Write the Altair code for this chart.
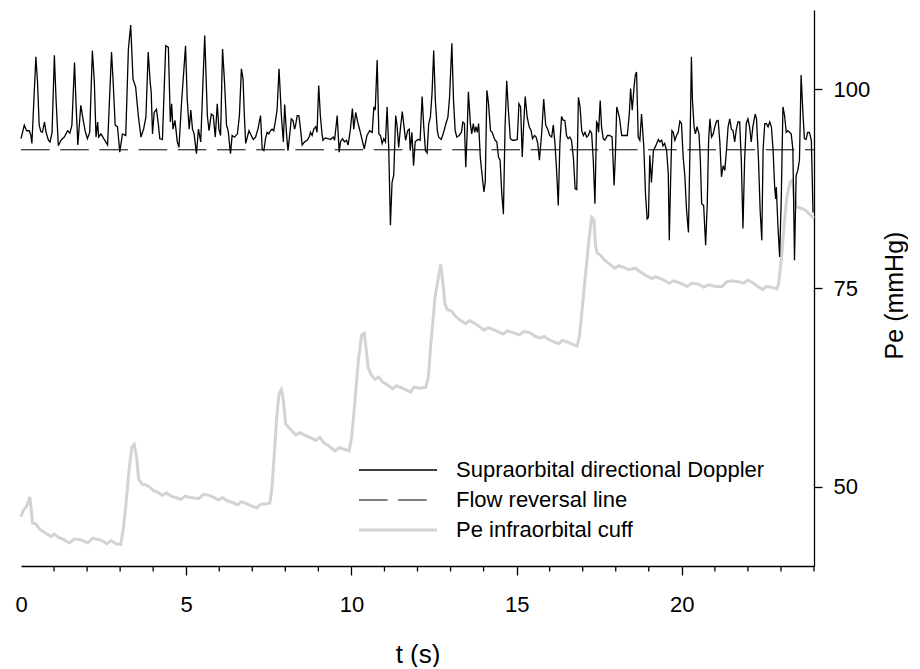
import altair as alt
import pandas as pd

FONT = "Liberation Sans"

# ---- data ----
doppler_t = [0.00, 0.10, 0.17, 0.25, 0.30, 0.33, 0.45, 0.50, 0.55, 0.60, 0.65, 0.71, 0.76, 0.83, 0.88, 0.94,
             1.01, 1.06, 1.13, 1.21, 1.31, 1.41, 1.48, 1.54, 1.62, 1.66, 1.72, 1.81, 1.86, 1.94, 2.01, 2.08,
             2.16, 2.22, 2.27, 2.32, 2.35, 2.42, 2.52, 2.62, 2.74, 2.79, 2.85, 2.92, 2.99, 3.07, 3.17, 3.25,
             3.32, 3.39, 3.47, 3.55, 3.63, 3.71, 3.78, 3.85, 3.91, 3.94, 3.98, 4.03, 4.10, 4.16, 4.20, 4.28,
             4.38, 4.46, 4.52, 4.56, 4.60, 4.66, 4.73, 4.78, 4.86, 4.98, 5.03, 5.09, 5.14, 5.19, 5.24, 5.31,
             5.37, 5.44, 5.56, 5.64, 5.69, 5.76, 5.82, 5.88,
             5.94, 5.99, 6.04, 6.10, 6.16, 6.22, 6.27, 6.34, 6.39, 6.46, 6.55, 6.61, 6.67, 6.72, 6.76, 6.80,
             6.85, 6.90, 6.97, 7.03, 7.10, 7.17, 7.25, 7.30, 7.35, 7.40, 7.45, 7.50, 7.55, 7.60, 7.65, 7.71,
             7.75, 7.81, 7.88, 7.94, 7.98, 8.04, 8.08, 8.14, 8.18, 8.23, 8.28, 8.31, 8.36, 8.41, 8.46, 8.51,
             8.58, 8.66, 8.72, 8.76, 8.81, 8.86, 8.92, 8.96, 9.01, 9.06, 9.11, 9.14, 9.21, 9.28, 9.37, 9.45,
             9.49, 9.57, 9.63, 9.67, 9.73, 9.79, 9.85, 9.90, 9.97, 10.03, 10.07, 10.13, 10.19, 10.27, 10.35,
             10.39, 10.47, 10.55, 10.63, 10.68, 10.72, 10.78, 10.83, 10.88, 10.93, 10.98, 11.03, 11.08, 11.13,
             11.18, 11.23, 11.28, 11.34, 11.38, 11.43, 11.48, 11.54, 11.60, 11.64, 11.70, 11.75,
             11.78, 11.83, 11.88, 11.93, 12.01, 12.08, 12.14, 12.19, 12.24, 12.29, 12.34, 12.39, 12.44, 12.49,
             12.54, 12.60, 12.64, 12.72, 12.79, 12.86, 12.92, 12.97, 13.04, 13.09, 13.14, 13.19, 13.26, 13.33,
             13.37, 13.42, 13.46, 13.50, 13.54, 13.60, 13.64, 13.69, 13.73, 13.77, 13.81, 13.85, 13.90, 13.95,
             14.01, 14.05, 14.10, 14.15, 14.21, 14.26, 14.31, 14.35, 14.40, 14.45, 14.50, 14.55, 14.60, 14.65,
             14.70, 14.75, 14.81, 14.87, 14.95, 15.02, 15.07, 15.12, 15.17, 15.21, 15.26, 15.32, 15.38, 15.44,
             15.48, 15.54, 15.59, 15.64, 15.69, 15.76, 15.82, 15.88, 15.94, 16.00, 16.06, 16.11, 16.16, 16.21,
             16.26, 16.31, 16.36, 16.41, 16.46, 16.51, 16.56, 16.61, 16.66, 16.72, 16.77, 16.82, 16.87, 16.92,
             16.97, 17.02, 17.07, 17.12, 17.17, 17.22, 17.27, 17.32, 17.37, 17.42, 17.45, 17.48, 17.53, 17.57,
             17.62, 17.67, 17.75, 17.82, 17.89,
             17.95, 17.99, 18.03, 18.11, 18.18, 18.28, 18.35, 18.41, 18.45, 18.50, 18.55, 18.59, 18.63, 18.68,
             18.73, 18.78, 18.85, 18.90, 18.95, 18.99, 19.03, 19.08, 19.14, 19.19, 19.24, 19.29, 19.33, 19.39,
             19.43, 19.48, 19.54, 19.59, 19.62, 19.66, 19.70, 19.74, 19.79, 19.84, 19.89, 19.94, 19.99, 20.04,
             20.09, 20.14, 20.20, 20.24, 20.29, 20.32, 20.37, 20.41, 20.46, 20.52, 20.56, 20.60, 20.66, 20.72,
             20.77, 20.81, 20.85, 20.90, 20.95, 21.00, 21.05, 21.10, 21.15, 21.20, 21.25, 21.30, 21.35, 21.40,
             21.45, 21.50, 21.55, 21.60, 21.65, 21.70, 21.75, 21.80, 21.85, 21.90, 21.95, 22.00, 22.05, 22.10,
             22.15, 22.22, 22.26, 22.32, 22.37, 22.42, 22.46, 22.51, 22.56, 22.61, 22.66, 22.71, 22.76, 22.81,
             22.84, 22.86, 22.91, 22.96, 23.01, 23.06, 23.11, 23.16, 23.21, 23.26, 23.31, 23.36, 23.41, 23.46,
             23.51, 23.56, 23.61, 23.66, 23.71, 23.76, 23.81, 23.86, 23.92, 23.97]

doppler_v = [93.8, 95.5, 94.8, 94.8, 94.2, 93.2, 104.1, 100.9, 95.5, 94.7, 94.6, 95.9, 94.6, 93.6, 93.4, 94.6,
             104.3, 98.8, 92.9, 93.6, 94.0, 94.8, 94.5, 95.5, 103.4, 98.8, 93.0, 98.0, 96.7, 94.8, 93.8, 94.6,
             104.9, 100.9, 94.0, 95.9, 94.0, 94.4, 93.7, 93.0, 104.7, 100.9, 95.5, 95.3, 92.1, 94.4, 94.2, 105.1,
             108.1, 101.3, 100.3, 96.7, 94.0, 95.0, 96.5, 104.7, 100.9, 99.7, 94.4, 97.1, 97.5, 95.5, 93.8, 93.7,
             105.5, 105.3, 95.9, 98.2, 95.0, 96.1, 93.4, 92.7, 98.4, 105.5, 98.8, 95.0, 97.4, 95.0, 94.4, 91.9,
             95.0, 93.4, 106.8, 96.7, 94.8, 96.9, 96.7, 94.0,
             98.2, 95.0, 94.2, 105.1, 100.9, 95.5, 94.8, 91.9, 94.2, 94.0, 94.4, 96.7, 102.6, 101.3, 96.7, 93.2,
             94.0, 94.8, 94.2, 93.7, 94.0, 95.0, 96.7, 92.5, 92.3, 93.8, 94.6, 94.4, 94.8, 95.0, 94.8, 96.3,
             97.4, 102.6, 96.7, 93.4, 98.1, 94.2, 92.3, 94.6, 96.3, 96.1, 95.0, 95.5, 96.7, 96.7, 95.0, 93.0,
             93.4, 93.6, 94.0, 94.6, 94.2, 95.0, 95.3, 94.6, 100.5, 96.7, 94.4, 93.6, 93.9, 93.8, 93.7, 94.0,
             93.6, 96.7, 92.1, 93.4, 93.8, 93.4, 93.6, 93.0, 95.0, 97.6, 95.0, 97.1, 95.9, 94.6, 93.2,
             92.5, 94.2, 94.8, 94.6, 97.8, 97.4, 103.7, 94.4, 94.2, 93.2, 93.8, 93.4, 97.8, 92.5,
             82.9, 88.3, 89.2, 96.7, 95.5, 92.7, 95.0, 97.2, 95.0, 93.6, 94.8, 95.0,
             92.3, 94.6, 90.4, 93.4, 93.7, 93.6, 99.1, 95.3, 92.3, 92.0, 95.7, 96.5, 99.5, 104.9,
             98.6, 94.8, 94.0, 93.7, 94.6, 95.7, 96.5, 99.0, 105.8, 98.6, 94.8, 94.0, 94.2, 94.6,
             95.9, 95.7, 90.2, 94.2, 99.7, 95.7, 94.4, 95.7, 94.6, 95.3, 94.6, 95.7, 91.5, 89.4,
             87.1, 88.3, 99.9, 98.2, 94.8, 94.6, 94.0, 93.6, 93.4, 91.5, 91.1, 86.9, 84.3, 95.3,
             101.1, 97.4, 93.8, 93.6, 93.6, 93.7, 98.2, 97.8, 91.5, 95.3, 99.1, 96.5, 95.3, 94.8,
             93.8, 94.2, 94.0, 93.2, 91.1, 94.6, 98.8, 95.5, 95.0, 94.2, 94.0, 95.5, 93.2, 89.8,
             85.4, 93.2, 96.6, 96.1, 96.1, 94.2, 93.8, 94.0, 93.6, 91.3, 87.5, 87.4, 99.0, 97.8,
             94.8, 94.2, 94.6, 94.0, 94.2, 94.8, 94.5, 91.1, 85.6, 95.9, 95.7, 94.6, 98.6, 95.3,
             93.8, 93.6, 94.2, 94.2, 94.0,
             87.9, 91.9, 97.8, 96.5, 94.2, 94.2, 94.2, 96.9, 100.1, 97.4, 100.1, 101.8, 102.2, 94.0,
             93.6, 96.9, 92.7, 86.9, 83.7, 83.9, 91.7, 88.3, 92.3, 92.7, 93.2, 93.7, 93.4, 93.6,
             92.9, 93.2, 92.3, 89.4, 81.0, 88.5, 94.8, 94.6, 93.6, 94.2, 94.6, 96.0, 95.7, 91.5,
             89.2, 85.0, 82.0, 91.1, 104.1, 98.8, 95.3, 94.4, 95.3, 94.4, 91.1, 85.6, 85.4, 80.4,
             85.6, 93.6, 96.3, 94.0, 94.4, 95.3, 96.0, 96.1, 93.4, 89.0, 90.4, 89.8, 92.3, 95.3,
             96.3, 95.0, 94.8, 93.4, 95.0, 95.9, 95.9, 91.1, 82.5, 91.1, 95.7, 96.3, 95.3, 93.4,
             95.3, 96.9, 96.3, 91.1, 84.8, 81.0, 92.5, 95.7, 95.7, 95.3, 95.9, 95.3, 92.5, 87.7,
             86.2, 87.7, 82.7, 78.9, 86.4, 97.8, 96.7, 94.6, 94.8, 94.6, 94.4, 92.5, 78.5, 89.2,
             89.8, 91.1, 101.8, 97.4, 93.8, 93.7, 94.6, 94.6, 93.6, 84.5]

pe_t = [0.00, 0.07, 0.17, 0.27, 0.35, 0.45, 0.57, 0.76, 0.91, 1.01, 1.14, 1.31, 1.46, 1.61, 1.81, 2.02, 2.17,
        2.37, 2.49, 2.59, 2.72, 2.87, 3.02, 3.09, 3.17, 3.28, 3.36, 3.43, 3.50, 3.56, 3.66, 3.78, 3.88, 4.00,
        4.13, 4.28, 4.40, 4.54, 4.69, 4.84, 4.97, 5.14, 5.39, 5.51, 5.70, 5.85, 5.98, 6.10, 6.25, 6.40, 6.55,
        6.68, 6.80, 6.95, 7.13, 7.26, 7.41, 7.53, 7.59, 7.66, 7.74, 7.81, 7.88, 7.94, 8.01, 8.13, 8.32, 8.44,
        8.62, 8.80, 8.92, 9.04, 9.17, 9.32, 9.51, 9.63, 9.78, 9.93, 10.01, 10.11, 10.21, 10.31, 10.39, 10.45,
        10.51, 10.61, 10.72, 10.82, 10.94, 11.09, 11.25, 11.36, 11.54, 11.79, 11.89, 12.07, 12.25, 12.33,
        12.40, 12.47, 12.53, 12.60, 12.70, 12.77, 12.83, 12.90, 13.03, 13.16, 13.31, 13.46, 13.58, 13.75,
        13.89, 14.01, 14.14, 14.28, 14.44, 14.59, 14.72, 14.89, 15.07, 15.22, 15.39, 15.53, 15.68, 15.83,
        15.98, 16.13, 16.28, 16.38, 16.53, 16.70, 16.83, 16.90, 16.98, 17.08, 17.19, 17.27, 17.34, 17.39,
        17.44, 17.54, 17.67, 17.81, 17.97, 18.09, 18.24, 18.40, 18.60, 18.72, 18.90, 19.08, 19.21, 19.41,
        19.61, 19.76, 19.96, 20.16, 20.31, 20.49, 20.66, 20.82, 21.02, 21.22, 21.37, 21.52, 21.72, 21.87,
        22.00, 22.17, 22.33, 22.45, 22.55, 22.71, 22.88, 22.93, 23.01, 23.09, 23.18, 23.28, 23.35, 23.41,
        23.48, 23.64, 23.74, 23.89, 24.00]

pe_v = [46.2, 47.0, 47.5, 48.7, 45.4, 45.3, 44.6, 44.1, 43.7, 44.0, 43.6, 43.3, 42.9, 43.4, 43.3, 42.9, 43.5,
        43.3, 43.1, 42.8, 43.2, 42.8, 42.7, 44.5, 47.5, 52.5, 55.0, 55.3, 53.7, 51.0, 50.3, 50.2, 50.0, 49.5,
        49.3, 48.9, 49.2, 48.8, 48.6, 48.4, 48.8, 48.6, 48.5, 49.0, 48.9, 48.6, 48.3, 48.6, 48.2, 48.0, 47.7,
        48.1, 47.9, 47.6, 47.3, 47.8, 47.8, 47.9, 49.6, 53.7, 58.8, 61.7, 62.2, 60.9, 57.9, 57.3, 56.5, 56.8,
        56.4, 56.1, 55.8, 56.2, 55.5, 55.1, 54.5, 54.9, 54.7, 54.5, 56.3, 60.9, 65.9, 69.1, 69.3, 67.2,
        64.9, 64.0, 63.5, 63.8, 63.2, 62.8, 62.3, 62.7, 62.4, 61.9, 62.5, 62.4, 62.5, 63.8,
        67.8, 71.0, 73.8, 75.6, 78.0, 75.6, 73.0, 72.3, 72.1, 71.4, 70.9, 70.5, 70.9, 70.5,
        70.1, 69.7, 70.0, 69.8, 69.5, 69.2, 69.6, 69.4, 69.1, 69.5, 69.4, 69.0, 68.7, 68.9,
        68.5, 68.2, 68.0, 68.4, 68.2, 67.9, 67.7, 68.9, 72.2, 76.5, 81.1, 83.9, 83.6, 80.2,
        79.4, 79.1, 78.5, 78.0, 77.5, 77.8, 77.6, 77.3, 77.5, 77.1, 76.6, 76.2, 76.4, 76.1,
        75.6, 75.9, 75.6, 75.2, 75.6, 75.5, 75.1, 75.4, 75.2, 75.2, 75.8, 75.9, 75.8, 75.6,
        76.0, 75.6, 75.1, 74.8, 75.2, 75.1, 74.9, 75.6, 78.5, 82.7, 86.5, 88.4, 88.6, 86.1,
        85.2, 85.0, 84.8, 84.2, 83.8]

flow_t = [0, 24]
flow_v = [92.4, 92.4]

series_names = ["Supraorbital directional Doppler", "Flow reversal line", "Pe infraorbital cuff"]
series_colors = ["#000000", "#000000", "#d3d3d3"]
series_dash = [[1, 0], [28.6, 10.6], [1, 0]]
series_width = [1.3, 1.0, 3.0]
x_major = [0, 5, 10, 15, 20]
x_minor = [1, 2, 3, 4, 6, 7, 8, 9, 11, 12, 13, 14, 16, 17, 18, 19, 21, 22, 23, 24]
y_ticks = [50, 75, 100]

W, H = 793, 556

df_dop = pd.DataFrame({"t": doppler_t, "v": doppler_v, "series": series_names[0]})
df_flow = pd.DataFrame({"t": flow_t, "v": flow_v, "series": series_names[1]})
df_pe = pd.DataFrame({"t": pe_t, "v": pe_v, "series": series_names[2]})
df_minor = pd.DataFrame({"t": x_minor})

xscale = alt.Scale(domain=[0, 24], nice=False, zero=False)
yscale = alt.Scale(domain=[40, 110], nice=False, zero=False)

xaxis = alt.Axis(values=x_major, title="t (s)", tickSize=9, tickWidth=1.3, domainWidth=1.3,
                 labelPadding=19, labelFontSize=22, titleFontSize=26, titlePadding=26,
                 grid=False, labelFlush=False,
                 tickOpacity={"condition": {"test": "datum.value === 0", "value": 0}, "value": 1})
yaxis = alt.Axis(orient="right", values=y_ticks, title="Pe (mmHg)", tickSize=8, tickWidth=1.3,
                 domainWidth=1.3, labelPadding=11, labelFontSize=22, titleFontSize=25,
                 titleAngle=270, titleBaseline="top", titlePadding=13, titleY=285, grid=False)

width_expr = ("datum.value === '%s' ? %s : (datum.value === '%s' ? %s : %s)"
              % (series_names[2], series_width[2], series_names[1], series_width[1], series_width[0]))

legend = alt.Legend(title=None, orient="none", legendX=337, legendY=449, padding=0,
                    symbolType="M-3.9,0H3.9", symbolSize=400, symbolOffset=29, labelOffset=47,
                    labelFontSize=22, labelFont=FONT, labelColor="black", labelLimit=0, rowPadding=8,
                    symbolStrokeWidth=alt.ExprRef(expr=width_expr))

cscale = alt.Scale(domain=series_names, range=series_colors)
dscale = alt.Scale(domain=series_names, range=series_dash)


def line(df, sw):
    return alt.Chart(df).mark_line(strokeWidth=sw).encode(
        x=alt.X("t:Q", scale=xscale, axis=xaxis),
        y=alt.Y("v:Q", scale=yscale, axis=yaxis),
        color=alt.Color("series:N", scale=cscale, legend=legend),
        strokeDash=alt.StrokeDash("series:N", scale=dscale, legend=legend),
    )


minor = alt.Chart(df_minor).mark_rule(color="black", strokeWidth=1.3).encode(
    x=alt.X("t:Q", scale=xscale, axis=xaxis),
    y=alt.value(H),
    y2=alt.value(H + 5.5),
)

chart = alt.layer(
    line(df_pe, series_width[2]),
    line(df_flow, series_width[1]),
    line(df_dop, series_width[0]),
    minor,
).properties(
    width=W, height=H,
    padding={"left": 6, "top": 2, "right": 0, "bottom": 0},
).configure_axis(
    labelFont=FONT, titleFont=FONT, labelColor="black", titleColor="black",
    domainColor="black", tickColor="black", titleFontWeight="normal",
).configure_view(stroke=None)

chart.save("out.html", embed_options={"renderer": "svg", "actions": False})
